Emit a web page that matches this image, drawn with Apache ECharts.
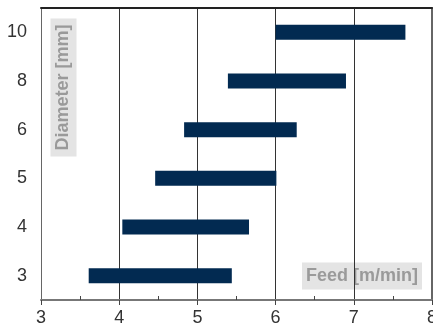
<!DOCTYPE html>
<html>
<head>
<meta charset="utf-8">
<script src="https://cdn.jsdelivr.net/npm/echarts@6/dist/echarts.min.js"></script>
<style>html,body{margin:0;padding:0;background:#fff}#c{width:433px;height:329px}</style>
</head>
<body>
<div id="c"></div>
<script>
const categories = ['3', '4', '5', '6', '8', '10'];
const feedMin = [3.61, 4.04, 4.46, 4.83, 5.39, 6.0];
const feedMax = [5.44, 5.66, 6.01, 6.27, 6.90, 7.66];
const xTicks = [3, 4, 5, 6, 7, 8];

const spans = feedMax.map((v, i) => +(v - feedMin[i]).toFixed(3));
const chart = echarts.init(document.getElementById('c'));
const font = 'Liberation Sans, Arial, Helvetica, sans-serif';
chart.setOption({
  animation: false,
  grid: { left: 41, right: 1, top: 8, bottom: 29, outerBoundsMode: 'none', containLabel: false },
  xAxis: [{
    type: 'value', min: xTicks[0], max: xTicks[xTicks.length - 1], interval: 1,
    axisLine: { show: true, lineStyle: { color: '#777', width: 2 } },
    axisTick: { show: true, length: 5, lineStyle: { color: '#444', width: 1 } },
    minorTick: { show: true, splitNumber: 2, length: -4, lineStyle: { color: '#444', width: 1 } },
    axisLabel: { color: '#333', fontSize: 18, fontFamily: font, margin: 9, hideOverlap: false },
    splitLine: { show: true, lineStyle: { color: '#333', width: 1 } }
  }, {
    type: 'value', min: 3, max: 8, position: 'top',
    axisLine: { show: true, lineStyle: { color: '#222', width: 2 } },
    axisTick: { show: false }, axisLabel: { show: false }, splitLine: { show: false }
  }],
  yAxis: [{
    type: 'category', data: categories,
    axisLine: { show: true, lineStyle: { color: '#666', width: 1 } },
    axisTick: { show: false },
    axisLabel: { color: '#333', fontSize: 18, fontFamily: font, margin: 14 },
    splitLine: { show: false }
  }, {
    type: 'category', data: categories, position: 'right',
    axisLine: { show: true, lineStyle: { color: '#666', width: 2 } },
    axisTick: { show: false }, axisLabel: { show: false }
  }],
  series: [{
    type: 'bar', stack: 'f', data: feedMin, barWidth: 15,
    itemStyle: { color: 'transparent' }, silent: true
  }, {
    type: 'bar', stack: 'f', data: spans, barWidth: 15,
    itemStyle: { color: '#022a51' }
  }],
  graphic: [{
    type: 'text', x: 63.5, y: 87.5, rotation: Math.PI / 2,
    style: {
      text: 'Diameter [mm]', fill: '#9a9a9a', font: 'bold 18px ' + font,
      align: 'center', verticalAlign: 'middle',
      backgroundColor: '#e4e4e4', padding: [4, 6, 4, 6]
    }
  }, {
    type: 'text', x: 362, y: 276,
    style: {
      text: 'Feed [m/min]', fill: '#9a9a9a', font: 'bold 18px ' + font,
      align: 'center', verticalAlign: 'middle',
      backgroundColor: '#e4e4e4', padding: [5, 4, 4, 4]
    }
  }]
});
</script>
</body>
</html>
